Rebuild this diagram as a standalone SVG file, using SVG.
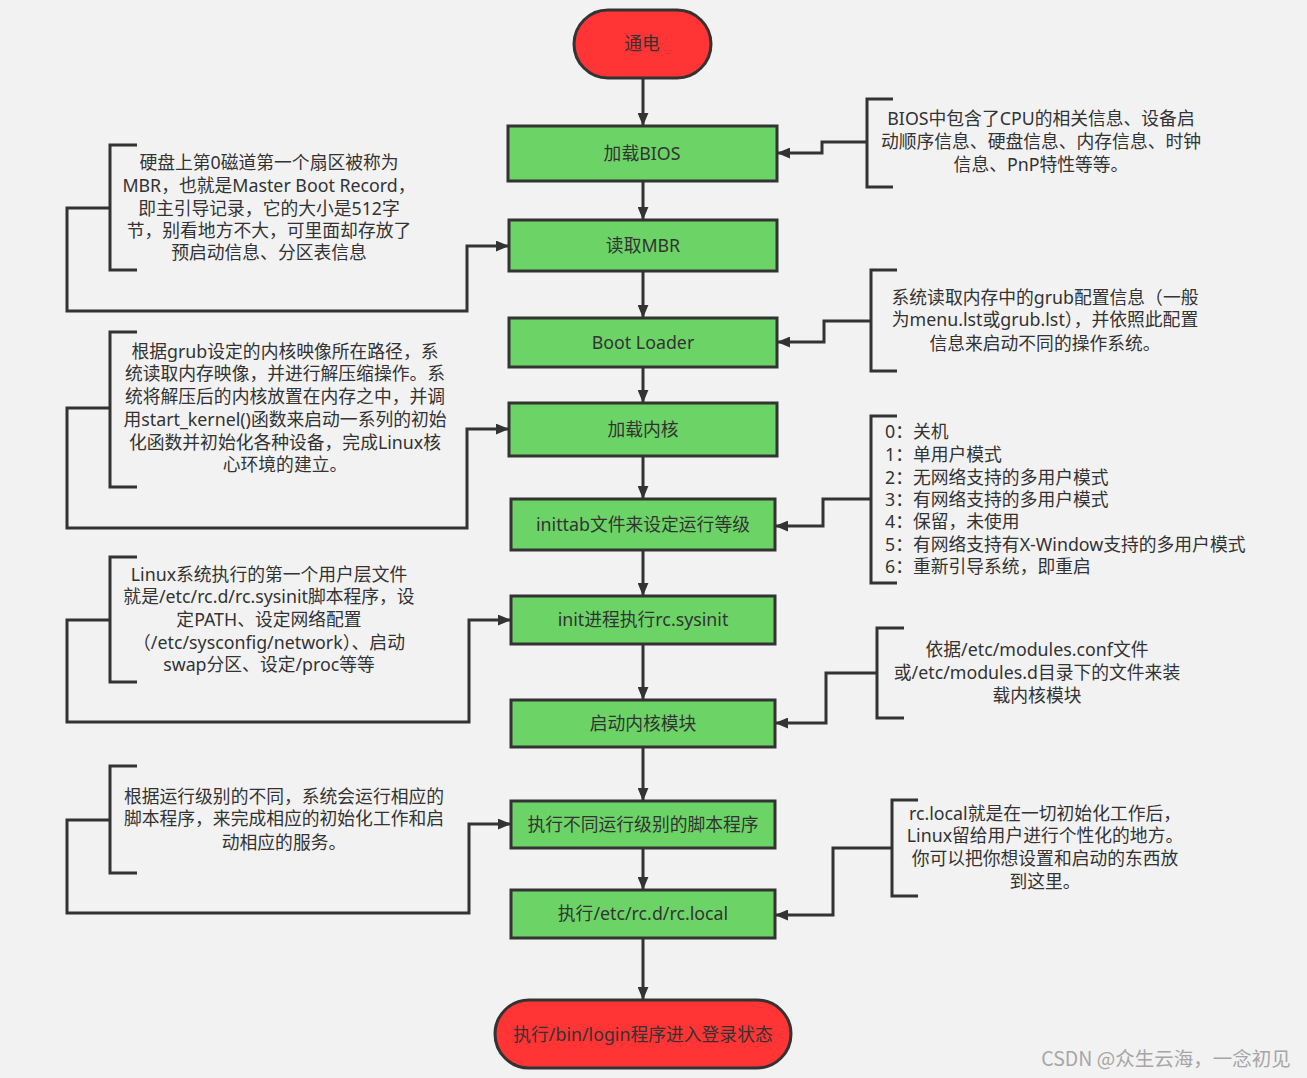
<svg xmlns="http://www.w3.org/2000/svg" width="1307" height="1078" viewBox="0 0 1307 1078">
<defs>
<marker id="arr" viewBox="0 0 12 10" refX="12" refY="5" markerWidth="13" markerHeight="11" markerUnits="userSpaceOnUse" orient="auto">
<path d="M0,0 L12,5 L0,10 z" fill="#333"/>
</marker>
<style>
.t{font-family:"Noto Sans","Noto Sans CJK SC",sans-serif;fill:#333;font-size:17.8px;}
.m{text-anchor:middle;}
.b{font-size:17.8px;}
.green{fill:#6cd467;stroke:#333;stroke-width:3;}
.red{fill:#ff3434;stroke:#333;stroke-width:3;}
.c{fill:none;stroke:#333;stroke-width:3;}
.br{fill:none;stroke:#333;stroke-width:3;}
.wm{font-family:"Noto Sans CJK SC",sans-serif;font-size:19.5px;fill:#a6a6a6;text-anchor:middle;}
</style>
</defs>
<rect width="1307" height="1078" fill="#f2f2f2"/>

<g id="connectors">
<polyline class="c" points="643,78 643,126" marker-end="url(#arr)"/>
<polyline class="c" points="643,181 643,220" marker-end="url(#arr)"/>
<polyline class="c" points="643,271 643,318" marker-end="url(#arr)"/>
<polyline class="c" points="643,367 643,403" marker-end="url(#arr)"/>
<polyline class="c" points="643,456 643,499" marker-end="url(#arr)"/>
<polyline class="c" points="643,550 643,596" marker-end="url(#arr)"/>
<polyline class="c" points="643,644 643,700" marker-end="url(#arr)"/>
<polyline class="c" points="643,747 643,801" marker-end="url(#arr)"/>
<polyline class="c" points="643,848 643,890" marker-end="url(#arr)"/>
<polyline class="c" points="643,938 643,1000" marker-end="url(#arr)"/>
<polyline class="c" points="867,142 822,142 822,153 777,153" marker-end="url(#arr)"/>
<polyline class="c" points="110,208 67,208 67,311 467,311 467,246 509,246" marker-end="url(#arr)"/>
<polyline class="c" points="871,321 824,321 824,342 777,342" marker-end="url(#arr)"/>
<polyline class="c" points="110,408 67,408 67,528 467,528 467,429 509,429" marker-end="url(#arr)"/>
<polyline class="c" points="871,499 823,499 823,526 775,526" marker-end="url(#arr)"/>
<polyline class="c" points="110,620 67,620 67,722 469,722 469,620 511,620" marker-end="url(#arr)"/>
<polyline class="c" points="877,673 826,673 826,723 775,723" marker-end="url(#arr)"/>
<polyline class="c" points="110,820 67,820 67,913 469,913 469,824 511,824" marker-end="url(#arr)"/>
<polyline class="c" points="892,848 833,848 833,915 775,915" marker-end="url(#arr)"/>
</g>

<g id="start">
<rect class="red" x="574" y="10" width="137" height="68" rx="34" ry="34"/>
<text class="t m b" x="642" y="50">通电</text>
</g>
<g id="bios">
<rect class="green" x="508" y="126" width="269" height="55"/>
<text class="t m b" x="642" y="160">加载BIOS</text>
</g>
<g id="mbr">
<rect class="green" x="509" y="220" width="268" height="51"/>
<text class="t m b" x="643" y="252">读取MBR</text>
</g>
<g id="bootloader">
<rect class="green" x="509" y="318" width="268" height="49"/>
<text class="t m b" x="643" y="349">Boot Loader</text>
</g>
<g id="kernel">
<rect class="green" x="509" y="403" width="268" height="53"/>
<text class="t m b" x="643" y="436">加载内核</text>
</g>
<g id="inittab">
<rect class="green" x="511" y="499" width="264" height="51"/>
<text class="t m b" x="643" y="531">inittab文件来设定运行等级</text>
</g>
<g id="sysinit">
<rect class="green" x="511" y="596" width="264" height="48"/>
<text class="t m b" x="643" y="626">init进程执行rc.sysinit</text>
</g>
<g id="modules">
<rect class="green" x="511" y="700" width="264" height="47"/>
<text class="t m b" x="643" y="730">启动内核模块</text>
</g>
<g id="scripts">
<rect class="green" x="511" y="801" width="264" height="47"/>
<text class="t m b" x="643" y="831">执行不同运行级别的脚本程序</text>
</g>
<g id="rclocal">
<rect class="green" x="511" y="890" width="264" height="48"/>
<text class="t m b" x="643" y="920">执行/etc/rc.d/rc.local</text>
</g>
<g id="login">
<rect class="red" x="495" y="1000" width="296" height="68" rx="34" ry="34"/>
<text class="t m b" x="643" y="1041">执行/bin/login程序进入登录状态</text>
</g>

<g id="note-bios">
<polyline class="br" points="893,99 867,99 867,187 893,187"/>
<text class="t m" x="1041" y="125">BIOS中包含了CPU的相关信息、设备启</text>
<text class="t m" x="1041" y="148">动顺序信息、硬盘信息、内存信息、时钟</text>
<text class="t m" x="1041" y="171">信息、PnP特性等等。</text>
</g>
<g id="note-mbr">
<polyline class="br" points="137,145 110,145 110,270 137,270"/>
<text class="t m" x="269" y="169">硬盘上第0磁道第一个扇区被称为</text>
<text class="t m" x="269" y="192">MBR，也就是Master Boot Record，</text>
<text class="t m" x="269" y="215">即主引导记录，它的大小是512字</text>
<text class="t m" x="269" y="237">节，别看地方不大，可里面却存放了</text>
<text class="t m" x="269" y="259">预启动信息、分区表信息</text>
</g>
<g id="note-bootloader">
<polyline class="br" points="897,270 871,270 871,371 897,371"/>
<text class="t m" x="1045" y="304">系统读取内存中的grub配置信息（一般</text>
<text class="t m" x="1045" y="326">为menu.lst或grub.lst），并依照此配置</text>
<text class="t m" x="1045" y="350">信息来启动不同的操作系统。</text>
</g>
<g id="note-kernel">
<polyline class="br" points="137,332 110,332 110,487 137,487"/>
<text class="t m" x="285" y="358">根据grub设定的内核映像所在路径，系</text>
<text class="t m" x="285" y="380">统读取内存映像，并进行解压缩操作。系</text>
<text class="t m" x="285" y="403">统将解压后的内核放置在内存之中，并调</text>
<text class="t m" x="285" y="426">用start_kernel()函数来启动一系列的初始</text>
<text class="t m" x="285" y="449">化函数并初始化各种设备，完成Linux核</text>
<text class="t m" x="285" y="471">心环境的建立。</text>
</g>
<g id="note-inittab">
<polyline class="br" points="897,416 871,416 871,583 897,583"/>
<text class="t" x="885" y="438">0：关机</text>
<text class="t" x="885" y="461">1：单用户模式</text>
<text class="t" x="885" y="484">2：无网络支持的多用户模式</text>
<text class="t" x="885" y="506">3：有网络支持的多用户模式</text>
<text class="t" x="885" y="528">4：保留，未使用</text>
<text class="t" x="885" y="551">5：有网络支持有X-Window支持的多用户模式</text>
<text class="t" x="885" y="573">6：重新引导系统，即重启</text>
</g>
<g id="note-sysinit">
<polyline class="br" points="137,557 110,557 110,682 137,682"/>
<text class="t m" x="269" y="581">Linux系统执行的第一个用户层文件</text>
<text class="t m" x="269" y="603">就是/etc/rc.d/rc.sysinit脚本程序，设</text>
<text class="t m" x="269" y="626">定PATH、设定网络配置</text>
<text class="t m" x="269" y="649">（/etc/sysconfig/network）、启动</text>
<text class="t m" x="269" y="671">swap分区、设定/proc等等</text>
</g>
<g id="note-modules">
<polyline class="br" points="904,628 877,628 877,718 904,718"/>
<text class="t m" x="1037" y="656">依据/etc/modules.conf文件</text>
<text class="t m" x="1037" y="679">或/etc/modules.d目录下的文件来装</text>
<text class="t m" x="1037" y="702">载内核模块</text>
</g>
<g id="note-scripts">
<polyline class="br" points="137,766 110,766 110,873 137,873"/>
<text class="t m" x="284" y="803">根据运行级别的不同，系统会运行相应的</text>
<text class="t m" x="284" y="825">脚本程序，来完成相应的初始化工作和启</text>
<text class="t m" x="284" y="849">动相应的服务。</text>
</g>
<g id="note-rclocal">
<polyline class="br" points="918,800 892,800 892,896 918,896"/>
<text class="t m" x="1045" y="820">rc.local就是在一切初始化工作后，</text>
<text class="t m" x="1045" y="842">Linux留给用户进行个性化的地方。</text>
<text class="t m" x="1045" y="865">你可以把你想设置和启动的东西放</text>
<text class="t m" x="1045" y="888">到这里。</text>
</g>
<text class="wm" x="1166" y="1066">CSDN @众生云海，一念初见</text>
</svg>
